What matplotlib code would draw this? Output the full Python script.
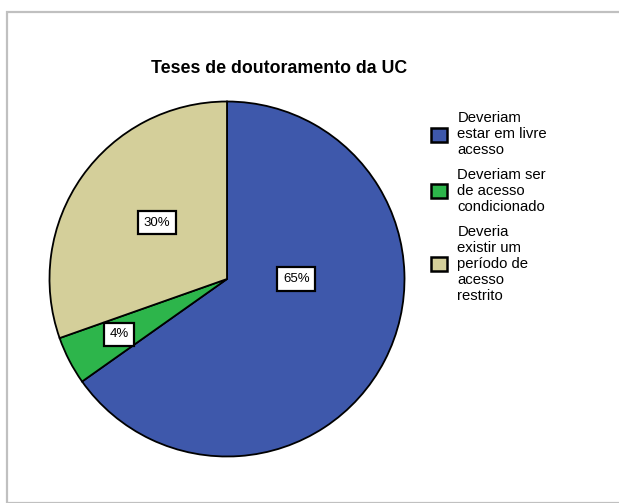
import matplotlib
matplotlib.use("Agg")
import matplotlib.pyplot as plt
from matplotlib.patches import Rectangle
import numpy as np

plt.rcParams['font.family'] = ['Liberation Sans', 'DejaVu Sans']

title = "Teses de doutoramento da UC"
categories = ["Deveriam\nestar em livre\nacesso",
              "Deveriam ser\nde acesso\ncondicionado",
              "Deveria\nexistir um\nperíodo de\nacesso\nrestrito"]
values = [65.2, 4.4, 30.4]
pct_labels = ["65%", "4%", "30%"]
colors = ["#3E58AB", "#2DB54B", "#D4CF9A"]

W, H = 619, 503
fig = plt.figure(figsize=(W / 100, H / 100), dpi=100)

# gray frame
fig.patches.append(Rectangle((7 / W, 0), 1.2, (H - 12) / H, transform=fig.transFigure,
                             fill=False, edgecolor="#C0C0C0", linewidth=1.6))

cx, cy, r = 227, 279, 177.5
ax = fig.add_axes([(cx - r) / W, (H - cy - r) / H, 2 * r / W, 2 * r / H])
wedges, _ = ax.pie(values, colors=colors, startangle=90, counterclock=False,
                   radius=1.0, wedgeprops=dict(edgecolor="black", linewidth=1.3))
ax.set_xlim(-1, 1)
ax.set_ylim(-1, 1)
ax.set_aspect("equal")
ax.axis("off")

# percentage label placement (radius fraction, angle in degrees)
label_pos = [(0.39, 0.0), (0.684, 207.2), (0.505, 141.3)]
for lab, (lr, ang) in zip(pct_labels, label_pos):
    x = lr * np.cos(np.radians(ang))
    y = lr * np.sin(np.radians(ang))
    ax.text(x, y, lab, ha="center", va="center", fontsize=9.5,
            bbox=dict(boxstyle="square,pad=0.42", fc="white", ec="black", lw=1.6))

fig.text(279 / W, 1 - 68.5 / H, title, ha="center", va="center",
         fontsize=12.8, fontweight="bold")

leg = fig.legend(wedges, categories, loc="upper left",
                 bbox_to_anchor=(431 / W, 1 - 111 / H), frameon=False,
                 fontsize=10.7, handlelength=1.08, handleheight=1.08,
                 handletextpad=0.7, labelspacing=0.7,
                 borderpad=0, borderaxespad=0)
for t in leg.get_texts():
    t.set_linespacing(1.2)
for h in leg.legend_handles:
    h.set_linewidth(1.8)

fig.savefig("out.png", dpi=100)
